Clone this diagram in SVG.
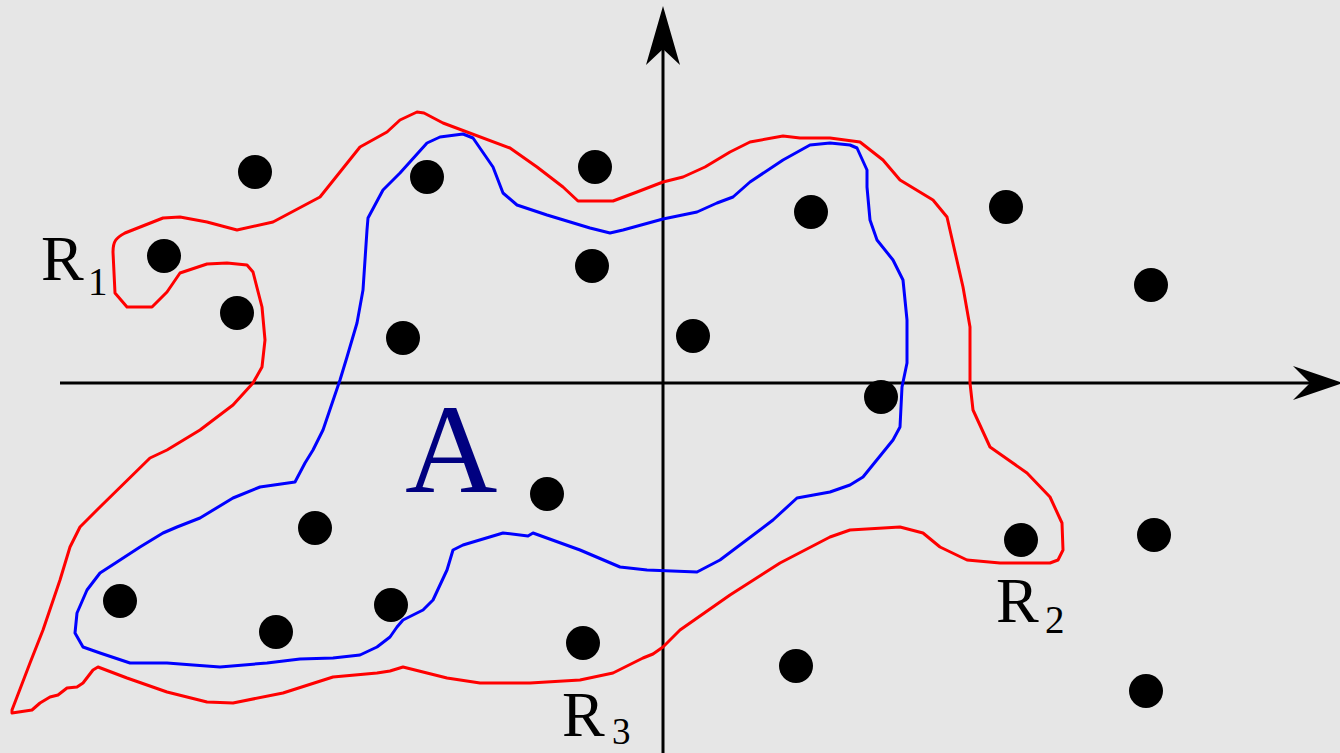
<svg xmlns="http://www.w3.org/2000/svg" width="1340" height="753" viewBox="0 0 1340 753">
<style>
.dot{fill:#000}
.lbl{font-family:"Liberation Serif","DejaVu Serif",serif;fill:#000}
.curve{fill:none;stroke-width:3;stroke-linejoin:round;stroke-linecap:round}
</style>
<rect width="1340" height="753" fill="#e6e6e6"/>
<g id="axes">
<line x1="60" y1="383" x2="1312" y2="383" stroke="#000" stroke-width="3"/>
<polygon points="1343,383 1293,366 1310,383 1293,400" fill="#000"/>
<line x1="663" y1="753" x2="663" y2="48" stroke="#000" stroke-width="3"/>
<polygon points="663,6 646,65 663,49 680,65" fill="#000"/>
</g>
<g id="region-R">
<path class="curve" stroke="#ff0000" d="M113,252 C113,241 116,238 125,233 L163,218 L180,217 L207,222 L237,230 L273,222 L320,197 L340,172 L360,147 L387,132 L400,120 L417,112 L424,113 L443,123 L510,148 L537,167 L563,187 L578,201 L613,201 L637,192 L663,182 L683,177 L705,167 L730,152 L750,142 L783,136 L800,138 L830,138 L860,142 L883,160 L900,180 L933,200 L947,217 L963,287 L970,327 L970,383 L973,410 L990,447 L1027,473 L1050,497 L1062,523 L1063,550 L1058,560 L1050,563 L1000,563 L967,560 L940,547 L923,533 L900,527 L850,530 L830,537 L780,563 L730,595 L680,630 L663,647 L653,654 L643,658 L613,673 L580,680 L530,683 L480,683 L447,678 L403,667 L390,671 L377,673 L333,677 L283,693 L233,703 L207,702 L167,692 L127,678 L98,667 L93,670 L83,683 L77,687 L67,688 L58,695 L50,697 L40,703 L32,710 L12,713 L12,710 L30,663 L43,630 L60,580 L70,547 L80,527 L100,507 L150,458 L167,450 L200,430 L233,405 L253,383 L262,367 L265,340 L262,307 L253,272 L247,265 L227,263 L207,264 L180,273 L167,292 L152,307 L127,307 L115,293 Z"/>
</g>
<g id="region-A">
<path class="curve" stroke="#0000ff" d="M368,218 L383,190 L400,173 L427,143 L440,137 L463,134 L473,138 L493,167 L503,193 L517,205 L547,215 L590,228 L610,233 L623,230 L663,219 L697,212 L717,203 L733,197 L750,182 L783,160 L810,145 L830,143 L850,145 L857,148 L867,170 L867,187 L870,220 L877,240 L893,260 L903,280 L907,320 L907,363 L902,387 L900,427 L893,440 L863,477 L850,485 L830,492 L797,498 L773,520 L720,560 L697,572 L647,570 L620,567 L580,550 L533,533 L528,536 L503,533 L463,545 L453,550 L447,570 L433,600 L423,610 L403,620 L397,627 L390,637 L377,647 L360,655 L333,658 L300,659 L267,663 L220,667 L193,665 L167,663 L130,663 L100,653 L83,647 L75,633 L77,613 L87,590 L100,573 L117,562 L140,547 L163,533 L177,527 L200,518 L233,498 L260,487 L295,482 L305,463 L313,450 L323,430 L340,380 L347,357 L357,323 L363,290 L367,230 Z"/>
</g>
<g id="points">
<circle class="dot" cx="255" cy="172" r="17"/>
<circle class="dot" cx="164" cy="256" r="17"/>
<circle class="dot" cx="237" cy="313" r="17"/>
<circle class="dot" cx="427" cy="177" r="17"/>
<circle class="dot" cx="595" cy="167" r="17"/>
<circle class="dot" cx="592" cy="266" r="17"/>
<circle class="dot" cx="403" cy="338" r="17"/>
<circle class="dot" cx="693" cy="336" r="17"/>
<circle class="dot" cx="811" cy="212" r="17"/>
<circle class="dot" cx="1006" cy="207" r="17"/>
<circle class="dot" cx="1151" cy="285" r="17"/>
<circle class="dot" cx="881" cy="397" r="17"/>
<circle class="dot" cx="547" cy="494" r="17"/>
<circle class="dot" cx="315" cy="528" r="17"/>
<circle class="dot" cx="120" cy="601" r="17"/>
<circle class="dot" cx="276" cy="632" r="17"/>
<circle class="dot" cx="391" cy="605" r="17"/>
<circle class="dot" cx="583" cy="643" r="17"/>
<circle class="dot" cx="796" cy="666" r="17"/>
<circle class="dot" cx="1021" cy="540" r="17"/>
<circle class="dot" cx="1154" cy="535" r="17"/>
<circle class="dot" cx="1146" cy="691" r="17"/>
</g>
<g id="labels">
<text class="lbl" x="41" y="280" font-size="64">R</text>
<text class="lbl" x="88" y="295" font-size="39">1</text>
<text class="lbl" x="996" y="622" font-size="64">R</text>
<text class="lbl" x="1045" y="633" font-size="39">2</text>
<text class="lbl" x="562" y="736" font-size="64">R</text>
<text class="lbl" x="612" y="744" font-size="37">3</text>
<text x="405" y="492" font-size="128" font-family="Liberation Serif, DejaVu Serif, serif" fill="#000080">A</text>
</g>
</svg>
